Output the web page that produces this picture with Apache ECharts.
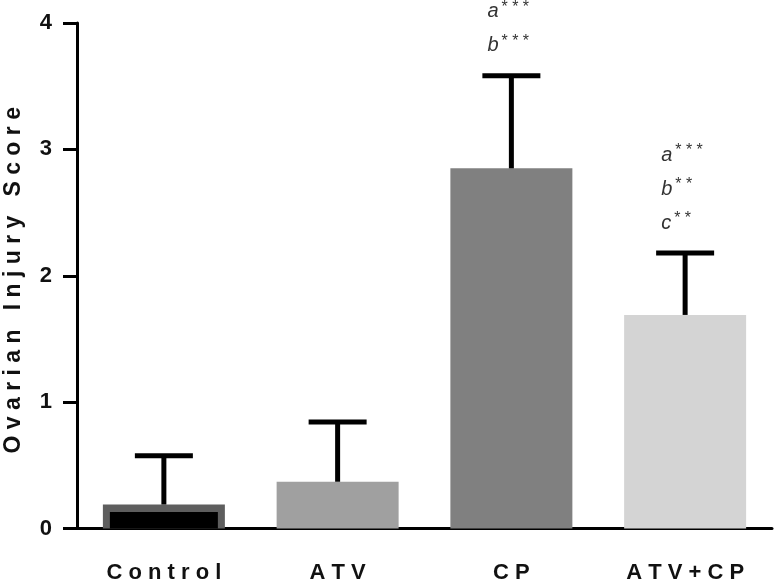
<!DOCTYPE html>
<html><head><meta charset="utf-8">
<script src="https://cdn.jsdelivr.net/npm/echarts@6/dist/echarts.min.js"></script>
<style>html,body{margin:0;padding:0;background:#fff}#c{width:774px;height:584px}</style>
</head><body><div id="c"></div>
<script>
const categories = ['C o n t r o l', 'A T V', 'C P', 'A T V + C P'];
const means = [0.19, 0.37, 2.85, 1.69];
const upperErr = [0.575, 0.843, 3.583, 2.18];
const controlInner = [0.13, '-', '-', '-'];
const barColors = ['#5e5e5e', '#a0a0a0', '#808080', '#d4d4d4'];
const sigLetters = [[], [], ['a', 'b'], ['a', 'b', 'c']];
const sigStars = [[], [], ['***', '***'], ['***', '**', '**']];
const yTicks = [0, 1, 2, 3, 4];

const FONT = 'Arial, "Liberation Sans", sans-serif';
const chart = echarts.init(document.getElementById('c'));
chart.setOption({
  animation: false,
  backgroundColor: '#fff',
  grid: {left: 77, right: 2, top: 23, bottom: 55.5, containLabel: false, outerBoundsMode: 'none'},
  xAxis: [{
    type: 'category', data: categories,
    axisLine: {lineStyle: {color: '#000', width: 3}},
    axisTick: {alignWithLabel: true, length: 14, lineStyle: {color: '#000', width: 3}},
    axisLabel: {fontFamily: FONT, fontWeight: 'bold', fontSize: 22, color: '#111', margin: 33}
  }, {
    type: 'category', data: categories, show: false
  }],
  yAxis: {
    type: 'value', min: yTicks[0], max: yTicks[yTicks.length - 1], interval: 1,
    name: 'O v a r i a n   I n j u r y   S c o r e',
    nameLocation: 'middle', nameRotate: 90, nameGap: 52,
    nameTextStyle: {fontFamily: FONT, fontWeight: 'bold', fontSize: 23, color: '#111', padding: [0, 9, 0, 0]},
    axisLine: {show: true, lineStyle: {color: '#000', width: 3}},
    axisTick: {show: true, length: 14, lineStyle: {color: '#000', width: 3}},
    axisLabel: {fontFamily: FONT, fontWeight: 'bold', fontSize: 22, color: '#111', margin: 25},
    splitLine: {show: false}
  },
  series: [{
    type: 'bar', barWidth: 122, xAxisIndex: 0,
    data: means.map((v, i) => ({value: v, itemStyle: {color: barColors[i]}}))
  }, {
    type: 'bar', barWidth: 108, xAxisIndex: 1,
    data: controlInner, itemStyle: {color: '#000'}
  }, {
    type: 'custom', xAxisIndex: 0,
    data: means.map((m, i) => [i, m, upperErr[i]]),
    renderItem: function (params, api) {
      const i = api.value(0);
      const base = api.coord([i, api.value(1)]);
      const top = api.coord([i, api.value(2)]);
      const half = 29;
      const children = [
        {type: 'line', shape: {x1: base[0], y1: base[1], x2: top[0], y2: top[1]}, style: {stroke: '#000', lineWidth: 5}},
        {type: 'line', shape: {x1: top[0] - half, y1: top[1], x2: top[0] + half, y2: top[1]}, style: {stroke: '#000', lineWidth: 5}}
      ];
      const L = sigLetters[i], S = sigStars[i];
      for (let k = 0; k < L.length; k++) {
        const idxFromBottom = L.length - 1 - k;
        children.push({
          type: 'text', x: top[0] - 24, y: top[1] - 31 - idxFromBottom * 34,
          style: {
            text: '{l|' + L[k] + '}{s|' + S[k].split('').join(' ') + '}',
            verticalAlign: 'middle', align: 'left',
            rich: {
              l: {fontFamily: FONT, fontStyle: 'italic', fontSize: 20, fill: '#333', color: '#333', verticalAlign: 'bottom', lineHeight: 22},
              s: {fontFamily: FONT, fontSize: 16, fill: '#333', color: '#333', verticalAlign: 'top', padding: [0, 0, 0, 3], lineHeight: 22}
            }
          }
        });
      }
      return {type: 'group', children: children};
    },
    z: 5
  }]
});
</script></body></html>
